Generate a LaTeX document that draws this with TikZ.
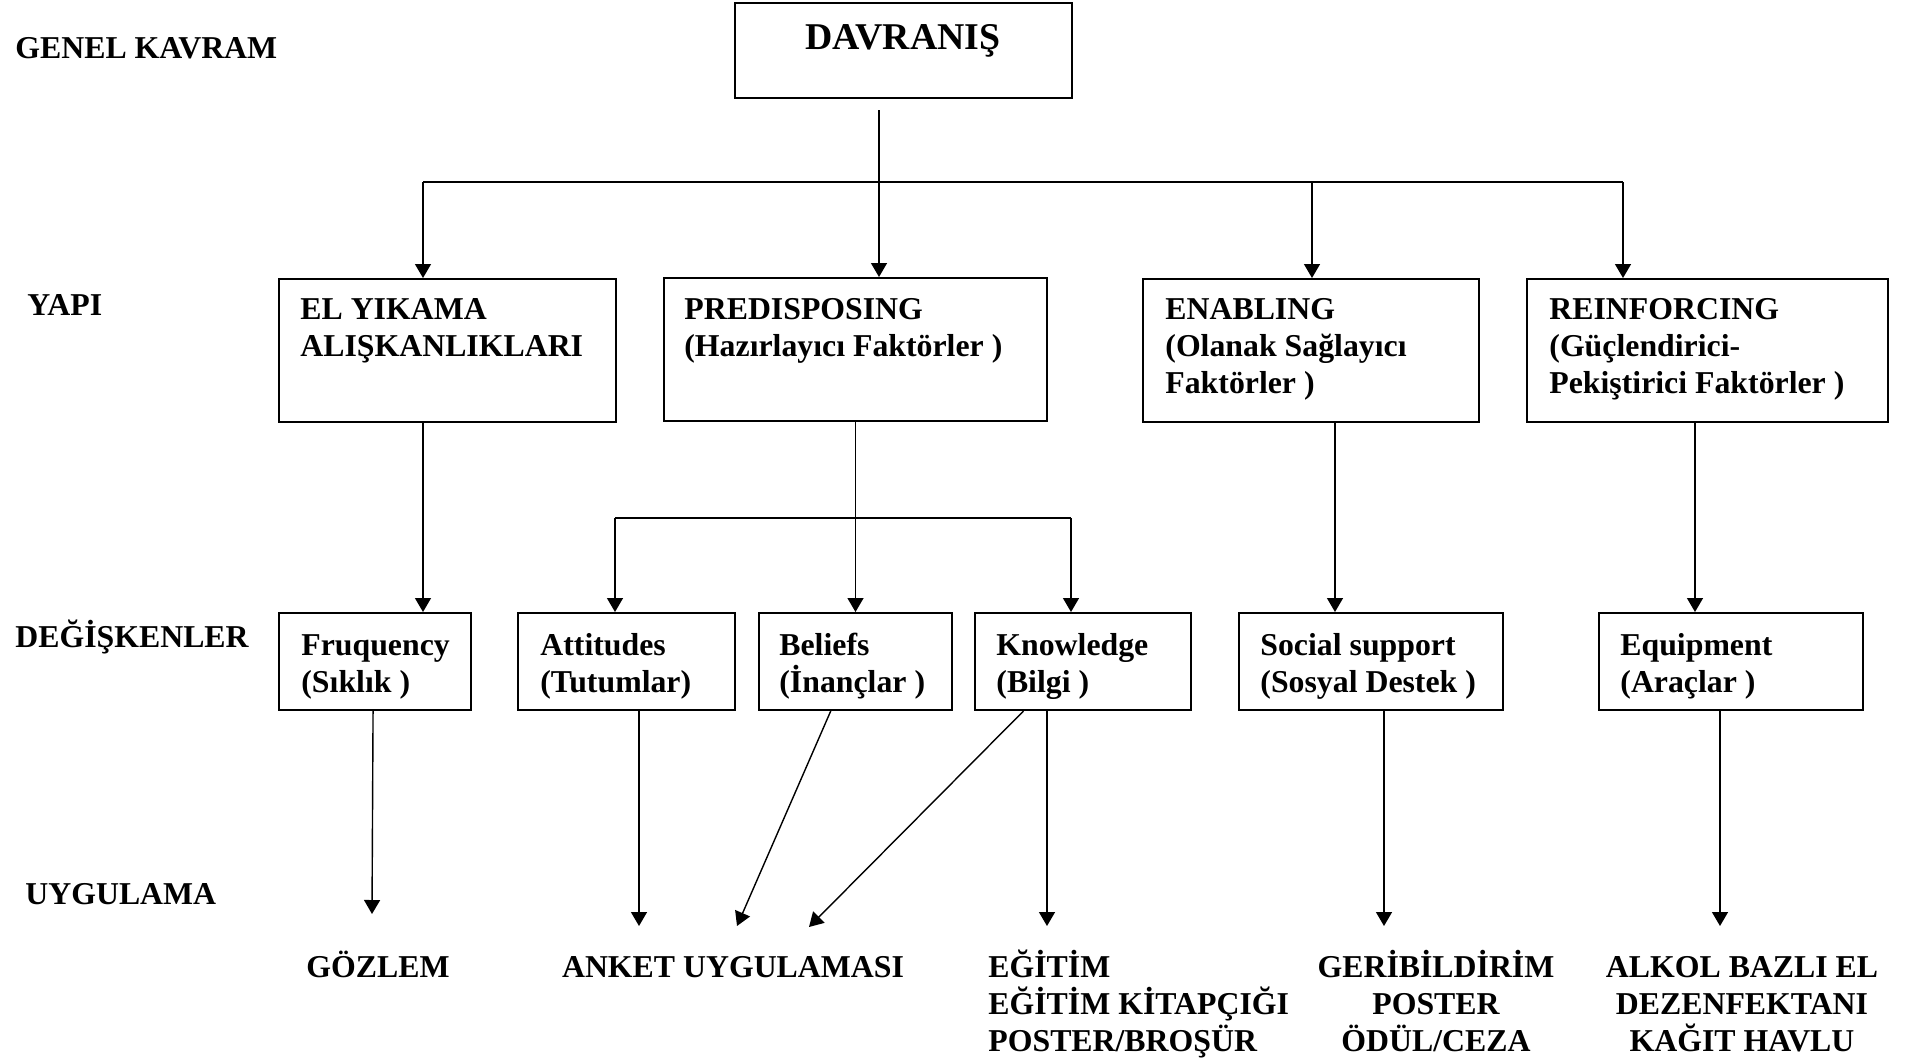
\documentclass[tikz,border=0pt]{standalone}
\usepackage{fontspec}
\setmainfont{Liberation Serif}
\usetikzlibrary{arrows.meta,fit,calc}
\newcommand\tr{\rule{0pt}{15pt}}
\begin{document}
\begin{tikzpicture}[x=0.5pt,y=-0.5pt,
  box/.style={draw,line width=1pt,inner sep=0pt},
  txt/.style={inner sep=0pt,anchor=north west,align=left,font=\bfseries\fontsize{15.9}{18.6}\selectfont},
  lbl/.style={inner sep=0pt,anchor=base west,font=\bfseries\fontsize{15.9}{18.6}\selectfont},
  arr/.style={line width=0.7pt,-{Triangle[length=7pt,width=8pt]}},
  bar/.style={line width=1pt}]
\useasboundingbox (0,0) rectangle (1912,1061);

% left labels
\node[lbl] (gk) at (15,58) {GENEL KAVRAM};
\node[lbl] (yapi) at (27,315) {YAPI};
\node[lbl] (deg) at (15,647) {DEĞİŞKENLER};
\node[lbl] (uyg) at (25,904) {UYGULAMA};

% boxes
\node[box,fit={(735,3) (1072,98)}] (dav) {};
\node[inner sep=0pt,anchor=base,font=\bfseries\fontsize{18.9}{22}\selectfont] (davt) at (903,49) {DAVRANIŞ};

\node[box,fit={(279,279) (616,422)}] (ely) {};
\node[box,fit={(664,278) (1047,421)}] (pre) {};
\node[box,fit={(1143,279) (1479,422)}] (ena) {};
\node[box,fit={(1527,279) (1888,422)}] (rei) {};

\node[txt] (elyt) at (300,289) {\tr EL YIKAMA\\ALIŞKANLIKLARI};
\node[txt] (pret) at (684,289) {\tr PREDISPOSING\\(Hazırlayıcı Faktörler )};
\node[txt] (enat) at (1165,289) {\tr ENABLING\\(Olanak Sağlayıcı\\Faktörler )};
\node[txt] (reit) at (1549,289) {\tr REINFORCING\\(Güçlendirici-\\Pekiştirici Faktörler )};

\node[box,fit={(279,613) (471,710)}] (freq) {};
\node[box,fit={(518,613) (735,710)}] (att) {};
\node[box,fit={(759,613) (952,710)}] (bel) {};
\node[box,fit={(975,613) (1191,710)}] (kno) {};
\node[box,fit={(1239,613) (1503,710)}] (soc) {};
\node[box,fit={(1599,613) (1863,710)}] (equ) {};

\node[txt] (freqt) at (301,625) {\tr Fruquency\\(Sıklık )};
\node[txt] (attt) at (540,625) {\tr Attitudes\\(Tutumlar)};
\node[txt] (belt) at (779,625) {\tr Beliefs\\(İnançlar )};
\node[txt] (knot) at (996,625) {\tr Knowledge\\(Bilgi )};
\node[txt] (soct) at (1260,625) {\tr Social support\\(Sosyal Destek )};
\node[txt] (equt) at (1620,625) {\tr Equipment\\(Araçlar )};

% bottom texts
\node[lbl,anchor=base] (goz) at (378,977) {GÖZLEM};
\node[lbl,anchor=base] (ank) at (733,977) {ANKET UYGULAMASI};
\node[txt] (egi) at (988,947) {\tr EĞİTİM\\EĞİTİM KİTAPÇIĞI\\POSTER/BROŞÜR};
\node[txt,anchor=north,align=center] (ger) at (1436,947) {\tr GERİBİLDİRİM\\POSTER\\ÖDÜL/CEZA};
\node[txt,anchor=north,align=center] (alk) at (1742,947) {\tr ALKOL BAZLI EL\\DEZENFEKTANI\\KAĞIT HAVLU};

% level 1 connectors
\coordinate (d0) at (879,110);
\coordinate (b1) at (423,182);
\coordinate (b2) at (1312,182);
\coordinate (b3) at (1623,182);
\draw[bar] (b1) -- (b3);
\draw[arr] (d0) -- (d0 |- pre.north);
\draw[arr] (b1) -- (b1 |- ely.north);
\draw[arr] (b2) -- (b2 |- ena.north);
\draw[arr] (b3) -- (b3 |- rei.north);

% level 2 connectors
\coordinate (c1) at (615,518);
\coordinate (c2) at (1071,518);
\coordinate (x1) at (1335,0);
\coordinate (x2) at (1695,0);
\draw[arr] (b1 |- ely.south) -- (b1 |- freq.north);
\draw[arr] (pre.south) -- (bel.north);
\draw[bar] (c1) -- (c2);
\draw[arr] (c1) -- (c1 |- att.north);
\draw[arr] (c2) -- (c2 |- kno.north);
\draw[arr] (x1 |- ena.south) -- (x1 |- soc.north);
\draw[arr] (x2 |- rei.south) -- (x2 |- equ.north);

% level 3 connectors
\coordinate (e1) at (372,914);
\coordinate (e2) at (639,926);
\coordinate (e3) at (737,926);
\coordinate (e4) at (809,927);
\coordinate (e5) at (1047,926);
\coordinate (e6) at (1384,926);
\coordinate (e7) at (1720,926);
\draw[arr] ($(freq.south west)!0.49!(freq.south east)$) -- (e1);
\draw[arr] (e2 |- att.south) -- (e2);
\draw[arr] ($(bel.south west)!0.373!(bel.south east)$) -- (e3);
\draw[arr] ($(kno.south west)!0.227!(kno.south east)$) -- (e4);
\draw[arr] (e5 |- kno.south) -- (e5);
\draw[arr] (e6 |- soc.south) -- (e6);
\draw[arr] (e7 |- equ.south) -- (e7);
\end{tikzpicture}
\end{document}
